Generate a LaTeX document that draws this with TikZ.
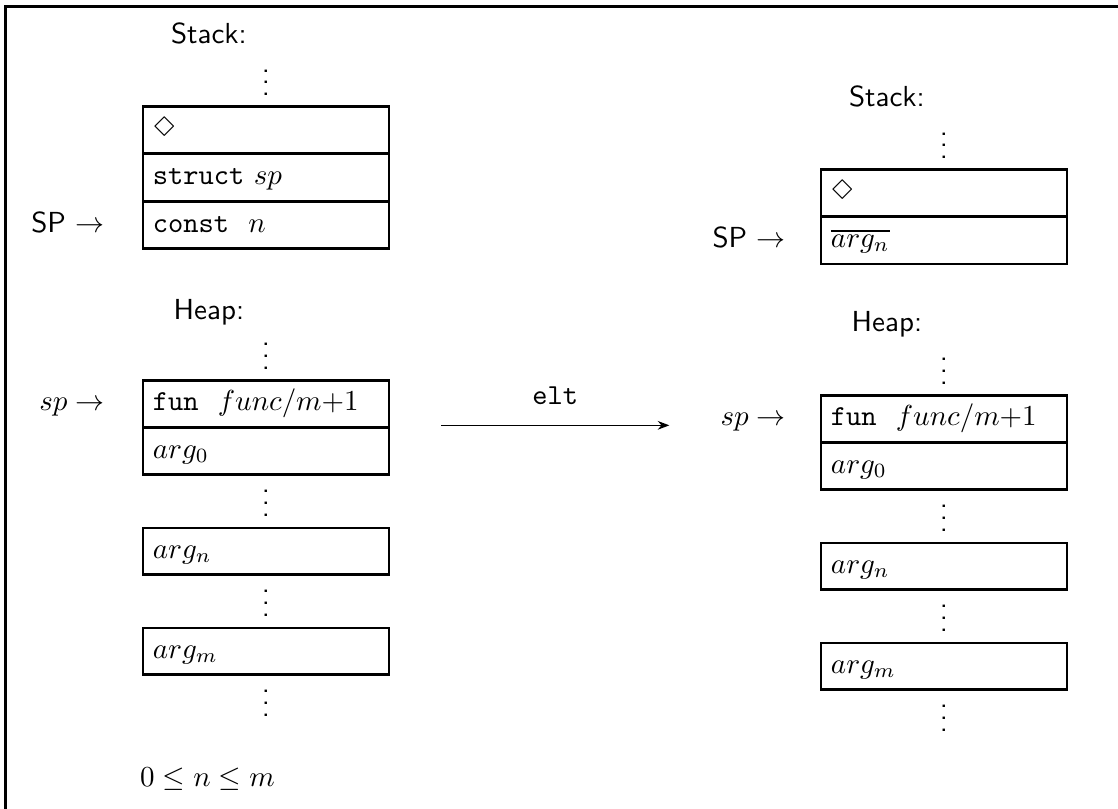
\documentclass[tikz,border=0pt]{standalone}
\usepackage{latexsym}
\usetikzlibrary{arrows.meta, positioning}
\newcommand{\stackdots}{\vbox{\baselineskip4pt\lineskiplimit0pt\hbox{.}\hbox{.}\hbox{.}}}
\tikzstyle{cell} = [rectangle, draw=black, line width=0.9pt, text width=78pt, inner xsep=3.4pt, minimum height=16.1pt, text height=7pt, text depth=2.2pt, align=left]
\tikzstyle{vdts} = [inner sep=0pt]
\tikzstyle{lbl} = [anchor=base, xshift=-19.7pt]
\tikzstyle{arrow} = [line width=0.45pt,->,>={Stealth[length=4pt,width=3pt]}]

\begin{document}
\begin{tikzpicture}[node distance=16.4pt, font=\sffamily]
      \useasboundingbox (0,0) rectangle (13.556,9.809);
      \draw [line width=0.8pt] (0.067,0) |- (13.556,9.730);

      % before: stack
      \node (ldiamond) [cell] at (3.225,8.233) {$\Diamond$};
      \node (lstruct) [cell, below of=ldiamond] {\texttt{struct} $sp$};
      \node (lconst) [cell, below of=lstruct] {\texttt{const}~~$n$};
      \node (lsdots) [vdts, above of=ldiamond] {\stackdots};
      \node (lstack) [lbl] at ([yshift=30pt]ldiamond.center) {Stack:};
      \node (lSP) [anchor=base east] at ([xshift=-9.3pt]lconst.base west) {SP $\rightarrow$};

      % before: heap
      \node (lfun) [cell, below of=lconst, node distance=61.7pt] {\texttt{fun}~~$func$/$m{+}1$};
      \node (larg0) [cell, below of=lfun] {$arg_0$};
      \node (lhdots) [vdts, above of=lfun] {\stackdots};
      \node (lheap) [lbl] at ([yshift=29pt]lfun.center) {Heap:};
      \node (lsp) [anchor=base east] at ([xshift=-9.3pt]lfun.base west) {$sp \rightarrow$};
      \node (ldots1) [vdts, below of=larg0, node distance=17.9pt] {\stackdots};
      \node (largn) [cell, below of=ldots1, node distance=16.6pt] {$arg_n$};
      \node (ldots2) [vdts, below of=largn, node distance=17.9pt] {\stackdots};
      \node (largm) [cell, below of=ldots2, node distance=16.6pt] {$arg_m$};
      \node (ldots3) [vdts, below of=largm, node distance=17.9pt] {\stackdots};
      \node (cond) [anchor=base] at ([xshift=-20.2pt,yshift=-46.7pt]largm.center) {$0 \le n \le m$};

      % after: stack
      \node (rdiamond) [cell] at (11.446,7.469) {$\Diamond$};
      \node (rargn) [cell, below of=rdiamond] {$\overline{arg_n}$};
      \node (rsdots) [vdts, above of=rdiamond] {\stackdots};
      \node (rstack) [lbl] at ([yshift=30pt]rdiamond.center) {Stack:};
      \node (rSP) [anchor=base east] at ([xshift=-8.2pt]rargn.base west) {SP $\rightarrow$};

      % after: heap
      \node (rfun) [cell, below of=rargn, node distance=61.5pt] {\texttt{fun}~~$func$/$m{+}1$};
      \node (rarg0) [cell, below of=rfun] {$arg_0$};
      \node (rhdots) [vdts, above of=rfun] {\stackdots};
      \node (rheap) [lbl] at ([yshift=30pt]rfun.center) {Heap:};
      \node (rsp) [anchor=base east] at ([xshift=-8.2pt]rfun.base west) {$sp \rightarrow$};
      \node (rdots1) [vdts, below of=rarg0, node distance=17.9pt] {\stackdots};
      \node (rargn2) [cell, below of=rdots1, node distance=16.6pt] {$arg_n$};
      \node (rdots2) [vdts, below of=rargn2, node distance=17.9pt] {\stackdots};
      \node (rargm) [cell, below of=rdots2, node distance=16.6pt] {$arg_m$};
      \node (rdots3) [vdts, below of=rargm, node distance=17.9pt] {\stackdots};

      % transition
      \coordinate (eltstart) at ([xshift=17.6pt,yshift=-7.4pt]lfun.east);
      \coordinate (eltend) at ([xshift=78.7pt]eltstart);
      \draw [arrow] (eltstart) -- node (eltlbl) [above, yshift=3.5pt] {\texttt{elt}} (eltend);
\end{tikzpicture}
\end{document}
